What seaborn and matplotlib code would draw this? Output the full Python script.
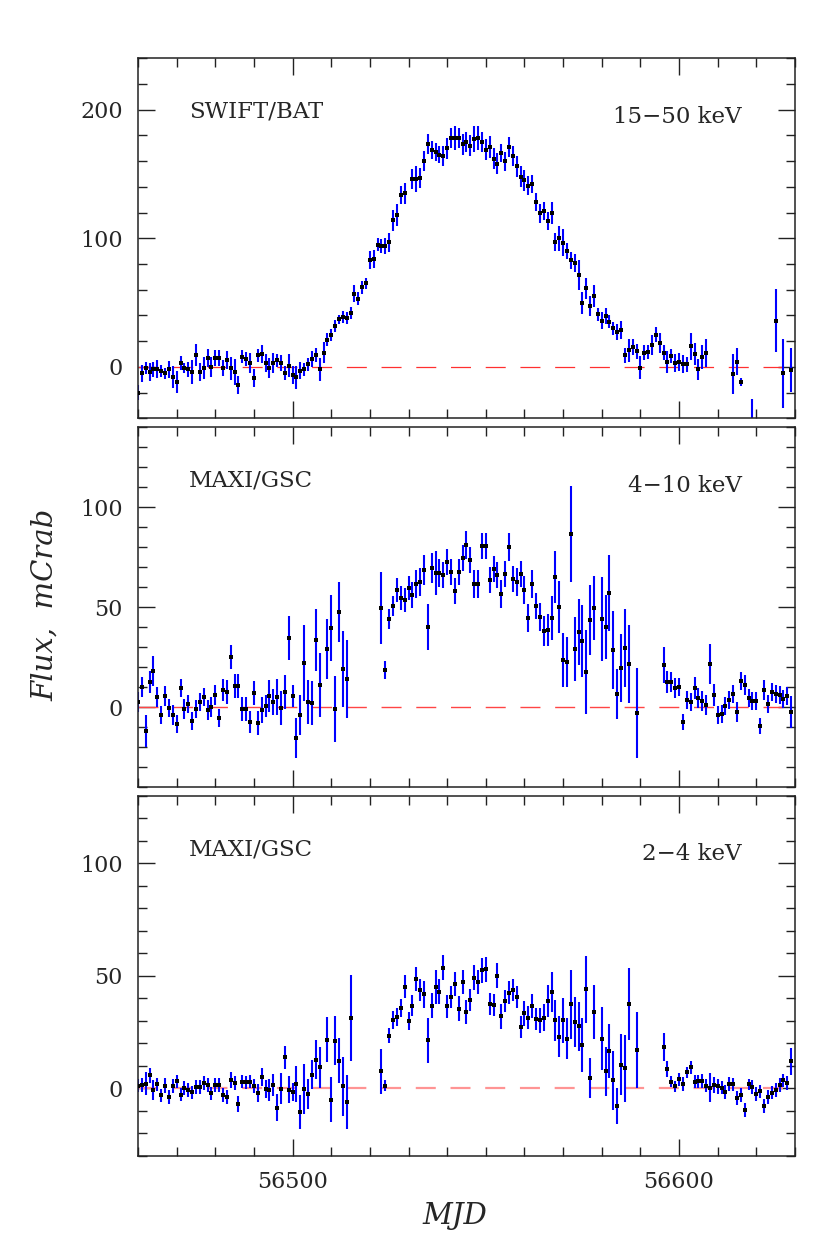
import numpy as np
import matplotlib
matplotlib.use('Agg')
import matplotlib.pyplot as plt
from matplotlib.ticker import MultipleLocator
import seaborn as sns

nan = np.nan

# daily bins, MJD 56460 ... 56629
mjd = np.arange(56460, 56630)

# SWIFT/BAT 15-50 keV, mCrab
bat_flux = [
    -20, -5, -1, -4, -2, -2, -3, -5, -2, -8,
    -12, 3, -1, -2, -4, 9, -4, -1, 7, 0,
    7, 7, -1, 5, -1, -4, -14, 8, 6, 3,
    -9, 9, 10, 3, -1, 3, 5, 3, -5, 1,
    -6, -8, -3, -2, 2, 6, 9, -2, 11, 21,
    25, 32, 37, 39, 38, 42, 57, 53, 62, 65,
    83, 84, 95, 94, 94, 97, 114, 118, 134, 135,
    nan, 146, 146, 147, 160, 173.5, 169, 167, 165, 164,
    170, 178, 178, 178, 173, 175, 172, 177, 178, 175,
    169, 171, 162, 158, 166, 160, 171, 164, 156, 148,
    145, 141, 142, 128, 119.5, 121, 113.5, 119.5, 97, 100,
    96.5, 90, 83, 81, 71.5, 50, 61, 47.5, 55, 41,
    36, 39.5, 35, 30, 27, 29, 9, 13, 15.5, 12,
    -0.5, 11, 11.5, 17, 25, 18.5, 11, 3.5, 8.5, 3,
    3.5, 2.5, 2, 16, 10, -2, 7.5, 11, nan, nan,
    nan, nan, nan, nan, -5.5, 4, -12, nan, nan, -55,
    nan, nan, nan, nan, nan, 36, nan, -5, nan, -2.5,
]
bat_err = [
    6, 6.5, 4.5, 7, 5.5, 7, 4.5, 4.5, 6.5, 8.5,
    8.5, 5.5, 4, 5.5, 9, 8.5, 7, 8.5, 7, 8,
    6, 6, 6, 7, 9, 10, 7, 5, 5.5, 8,
    7, 5, 7, 7, 8, 8, 5, 6, 5.5, 9,
    7, 9, 6.5, 5, 5, 6, 5.5, 9, 8, 5,
    4.5, 4.5, 3.5, 4.5, 4.5, 4.5, 6.5, 5, 5, 4.5,
    7, 7, 5, 5.5, 6, 7.5, 8, 8.5, 7, 8,
    nan, 8, 10, 8, 8, 8, 7, 7, 6.5, 8,
    8, 8, 9.5, 8, 8, 8, 8, 10, 9.5, 8,
    8, 8.5, 8, 8, 7, 7.5, 7.5, 8, 8, 8,
    8, 7.5, 7, 7, 7.5, 7, 7, 8.5, 7, 9.5,
    10.5, 6, 6.5, 7, 11.5, 8.5, 8, 8, 8.5, 5,
    6.5, 6.5, 5, 5, 6, 7, 6, 9, 6.5, 5.5,
    9, 6, 5.5, 8, 6, 8, 6, 8.5, 5.5, 7,
    7, 7, 6, 10.5, 8.5, 8, 9.5, 11, nan, nan,
    nan, nan, nan, nan, 15.5, 10.5, 3, nan, nan, 30,
    nan, nan, nan, nan, nan, 24.5, nan, 27, nan, 17,
]

# MAXI/GSC 4-10 keV, mCrab
gsc_hard_flux = [
    2.8, 10.3, -11.7, 12.8, 18.3, 5.3, -3.8, 5.8, -0.5, -3.8,
    -8.3, 9.8, -0.8, 1.5, -6.8, -1, 2.8, 5, -1.3, 0.3,
    6, -5.5, 8.7, 7.5, 25.2, 10.8, 10.8, -1, -1, -7.2,
    7.3, -7.7, -1.3, 0.7, 5.7, 2.8, 5, -0.2, 7.8, 34.8,
    5.7, -15.5, -3.8, 22.3, 2.8, 2, 33.7, 11.2, nan, 29,
    39.5, -1, 47.8, 19.2, 14.2, nan, nan, nan, nan, nan,
    nan, nan, nan, 49.5, 18.7, 44, 50.7, 58.7, 54.5, 53.7,
    59.5, 56.2, 61.5, 62.5, 68.5, 40.2, 69.5, 67.3, 67.3, 66.2,
    72.8, 67.8, 58.3, 67.5, 74.5, 81.2, 73.7, 61.7, 61.7, 80.8,
    80.8, 63.7, 69, 66.2, 56.8, 66.8, 80.2, 64, 62.5, 66.5,
    58.8, 44.7, 61.5, 50.7, 45.2, 38.3, 38.7, 44.8, 65, 50.2,
    23.7, 22.5, 86.5, 29.2, 37.8, 33, 17.5, 43.7, 49.8, nan,
    44, 40.3, 57, 28.7, 6.7, 19.5, 29.8, 21.7, nan, -3,
    nan, nan, nan, nan, nan, nan, 21.2, 12.8, 12.7, 9.5,
    10.3, -7.2, 3.7, 2.5, 9.8, 4.8, 3.2, 1.2, 21.5, 6,
    -3.8, -3.5, 0.8, 3.7, 6.5, -2.5, 13.3, 11.2, 4.5, 3.3,
    3.3, -9.2, 8.7, 1.5, 7.7, 6.5, 6.2, 4.2, 5.8, -2.2,
]
gsc_hard_err = [
    5, 5, 8, 5.5, 7.5, 5, 4.5, 5, 4.5, 5,
    4.5, 4.5, 5, 4.5, 4.5, 4.5, 4.5, 4.5, 5, 5,
    5, 4.5, 5.5, 6, 6, 6, 6, 6, 6, 5.5,
    6, 6, 6.5, 5.5, 8, 6.5, 9, 8.5, 8.5, 11,
    5.5, 10, 10, 19, 11, 11, 15.5, 16, nan, 15,
    16.5, 16.5, 15, 19, 19.5, nan, nan, nan, nan, nan,
    nan, nan, nan, 18, 4.5, 5, 5, 6, 6, 6,
    6, 6.5, 7, 7, 7.5, 11.5, 7.5, 11, 7, 6.5,
    6.5, 6.5, 6.5, 6.5, 6.5, 7, 6.5, 7, 7, 6.5,
    6.5, 6.5, 6.5, 6.5, 7, 6.5, 7, 6.5, 7, 6.5,
    7, 7, 7, 6.5, 7, 7.5, 8, 11, 13, 13,
    13.5, 12.5, 24, 16, 16.5, 18, 21, 17.5, 16, nan,
    21, 16, 19, 19.5, 12.5, 17, 19.5, 19.5, nan, 22.5,
    nan, nan, nan, nan, nan, nan, 9, 5.5, 5, 5,
    4.5, 4, 4.5, 4.5, 5.5, 5, 5, 5, 10, 5.5,
    4.5, 4.5, 4.5, 4.5, 4.5, 5, 4.5, 5, 4.5, 4.5,
    4.5, 4, 5, 4.5, 4.5, 4.5, 4.5, 4.5, 4.5, 8,
]

# MAXI/GSC 2-4 keV, mCrab
gsc_soft_flux = [
    1.2, 1.6, 2.1, 5.8, -0.6, 1.8, -3.1, 1.3, -3.9, 1,
    3.1, -2.7, 0.1, -0.6, -1.8, 0.6, 0.6, 2.4, 1.6, -2.2,
    1.6, 1.6, -2.8, -3.9, 3.9, 2.4, -6.8, 3, 2.7, 3,
    1, -2.1, 5.1, -0.1, -0.6, 1.5, -8.5, -0.1, 13.8, -0.6,
    -1.5, 2.1, -10.5, -0.3, -2.5, 6.1, 12.8, 9.4, nan, 21.7,
    -5.1, 21.2, 12.3, 0.9, -6.2, 31.2, nan, nan, nan, nan,
    nan, nan, nan, 7.6, 1.3, 23.5, 30.6, 31.9, 35.8, 45.2,
    29.9, 36.8, 48.6, 43.7, 41.8, 21.4, 36.7, 45, 42.9, 53.6,
    36.4, 40.6, 46.4, 35.5, 47.3, 33.9, 39.2, 49.2, 47.3, 52.5,
    52.9, 37.6, 37, 50.1, 32.1, 38.8, 42.5, 43.8, 40.6, 27.2,
    33.3, 31.4, 36.6, 30.9, 30.2, 31.4, 38.8, 42.8, 30.2, 23,
    30.3, 22.1, 37.3, 29.6, 27.6, 19.2, 44, 4.6, 34, nan,
    22.1, 7.6, 16.8, 3.6, -7.6, 10.5, 8.9, 37.6, nan, 17.1,
    nan, nan, nan, nan, nan, nan, 18.4, 8.6, 3, 0.9,
    4, 1.9, 7.1, 9.4, 3, 3.1, 3.4, 1.2, 0.4, 1.6,
    0.9, 0.4, -1.6, 1.9, 1.8, -4.3, -2.8, -9.5, 1.9, 0.6,
    -2.5, -1.3, -7.7, -3.9, -1.9, -0.6, 1.6, 3.6, 2.4, 12,
]
gsc_soft_err = [
    3, 3, 5, 3.5, 4.5, 3, 3, 3.5, 3, 3,
    3, 3, 3, 3, 3, 3, 3, 3, 3, 3,
    3, 3, 3, 3, 3.5, 3, 3.5, 3, 3, 3,
    3, 4, 4, 4, 5, 5, 6, 7, 5, 6,
    4, 8, 7.5, 11, 6.5, 6.5, 8.5, 9, nan, 10,
    10, 11, 10, 13, 12, 19, nan, nan, nan, nan,
    nan, nan, nan, 10, 2.5, 3.5, 4, 4, 4, 5,
    4, 4.5, 5.5, 5, 6, 10, 5.5, 7.5, 5.5, 5.5,
    5, 5, 5.5, 5.5, 5.5, 5.5, 5, 5.5, 5.5, 5.5,
    5.5, 5, 5, 5.5, 5.5, 5, 5, 5, 5, 5,
    5.5, 5, 5.5, 5, 5.5, 6, 7, 9, 9, 9,
    10, 9, 15.5, 11, 11, 12, 15, 9, 12, nan,
    14, 11, 12, 13, 8, 13.5, 15, 16, nan, 17,
    nan, nan, nan, nan, nan, nan, 6, 3.5, 2.5, 2.5,
    3, 3, 2.5, 3, 3, 3, 3, 3, 6.5, 3.5,
    3.5, 3, 3, 3, 3, 3, 3, 3, 2.5, 3,
    3, 3, 3, 3, 3, 3, 3, 3, 3, 6,
]

instruments = ['SWIFT/BAT', 'MAXI/GSC', 'MAXI/GSC']
bands = ['15\u221250 keV', '4\u221210 keV', '2\u22124 keV']
fluxes = [bat_flux, gsc_hard_flux, gsc_soft_flux]
errors = [bat_err, gsc_hard_err, gsc_soft_err]
ylims = [(-40, 240), (-40, 140), (-30, 130)]
ymajor = [100, 50, 50]
yminor = [20, 10, 10]
zero_styles = [('#ff3030', 0.9), ('#ff4545', 1.0), ('#ff9494', 1.6)]

sns.set_style('ticks')
plt.rcParams['font.family'] = ['DejaVu Serif']
plt.rcParams['mathtext.fontset'] = 'dejavuserif'

W, H = 822, 1259
fig = plt.figure(figsize=(W / 100, H / 100), dpi=100)
left_px, right_px = 138, 795
boxes = [(58.3, 418.3), (427.3, 787.3), (795.7, 1156)]

for k, (top, bottom) in enumerate(boxes):
    ax = fig.add_axes([left_px / W, 1 - bottom / H,
                       (right_px - left_px) / W, (bottom - top) / H])
    col, lw = zero_styles[k]
    ax.axhline(0, color=col, lw=lw, dashes=(14.4 / lw, 10.6 / lw), zorder=1)
    ax.errorbar(mjd, fluxes[k], yerr=errors[k], fmt='none',
                ecolor='#0000ff', elinewidth=1.5, capsize=0, zorder=2)
    sns.scatterplot(x=mjd, y=fluxes[k], ax=ax, color='black', marker='s',
                    s=7, linewidth=0, zorder=3)

    ax.set_xlim(56460, 56630)
    ax.set_ylim(*ylims[k])
    ax.xaxis.set_major_locator(MultipleLocator(100))
    ax.xaxis.set_minor_locator(MultipleLocator(10))
    ax.yaxis.set_major_locator(MultipleLocator(ymajor[k]))
    ax.yaxis.set_minor_locator(MultipleLocator(yminor[k]))
    ax.ticklabel_format(useOffset=False)
    ax.tick_params(which='both', direction='in', top=True, right=True,
                   width=1.0, color='#222222')
    ax.tick_params(which='major', length=12, pad=11, labelsize=16)
    ax.tick_params(which='minor', length=6.5)
    if k < 2:
        ax.tick_params(labelbottom=False)
    for s in ax.spines.values():
        s.set_linewidth(1.1)
        s.set_color('#222222')
    ax.set_xlabel('')
    ax.set_ylabel('')

    ax.text(0.078, 0.852, instruments[k], transform=ax.transAxes,
            ha='left', va='center', fontsize=16.5)
    ax.text(0.919, 0.838, bands[k], transform=ax.transAxes,
            ha='right', va='center', fontsize=16.5)

fig.text(45 / W, 1 - 605 / H, 'Flux,  mCrab', rotation=90, ha='center',
         va='center', fontsize=21, style='italic')
fig.text(455 / W, 1 - 1216 / H, 'MJD', ha='center', va='center',
         fontsize=21, style='italic')

fig.savefig('out.png', dpi=100)
